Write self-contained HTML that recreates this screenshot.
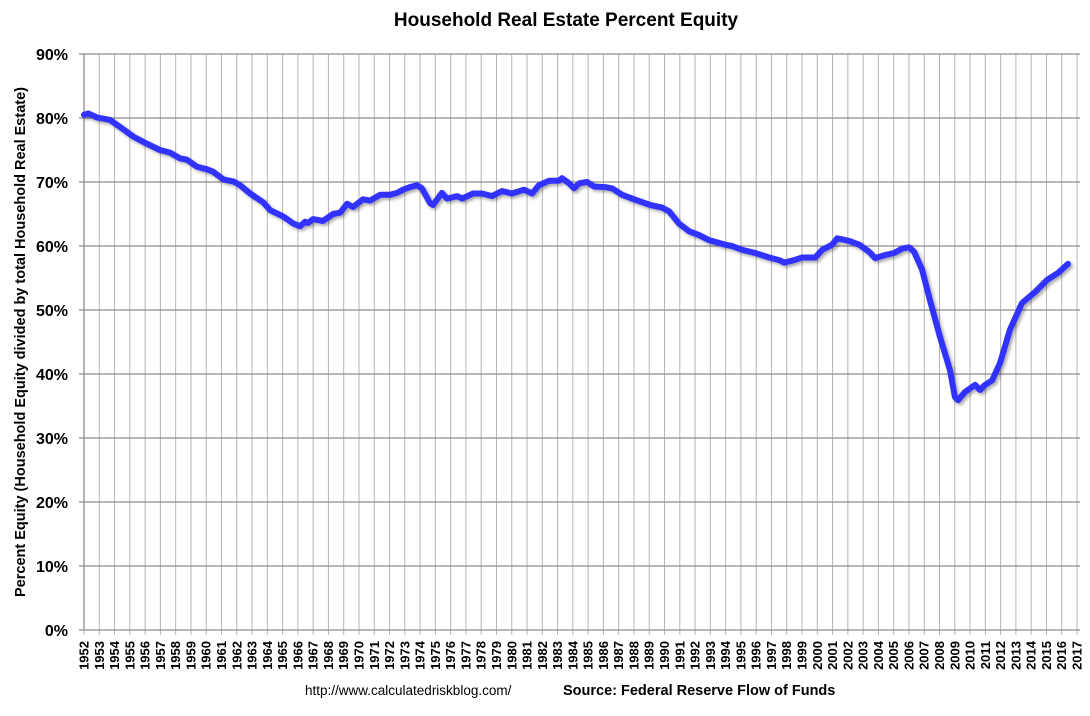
<!DOCTYPE html>
<html><head><meta charset="utf-8"><style>
body{margin:0;background:#fff;}
svg{display:block;font-family:"Liberation Sans",Arial,sans-serif;}
</style></head><body>
<svg id="chart" width="1090" height="716">
<defs><filter id="sh" x="-5%" y="-5%" width="110%" height="110%"><feDropShadow dx="2" dy="2" stdDeviation="1.5" flood-color="#000" flood-opacity="0.35"/></filter></defs>
<text x="566" y="26" text-anchor="middle" font-size="19" font-weight="bold">Household Real Estate Percent Equity</text>
<g id="grid"></g>
<g id="axes"></g>
<text transform="translate(25,342) rotate(-90)" text-anchor="middle" font-size="14.5" font-weight="bold">Percent Equity (Household Equity divided by total Household Real Estate)</text>
<text x="305" y="695" font-size="13.5">http://www.calculatedriskblog.com/</text>
<text x="563" y="695" font-size="14.5" font-weight="bold">Source: Federal Reserve Flow of Funds</text>
</svg>
<script>
const years=[1952.00,1952.28,1952.83,1953.70,1954.47,1955.23,1956.10,1956.97,1957.63,1958.28,1958.72,1959.38,1960.03,1960.46,1961.12,1961.77,1962.21,1962.87,1963.74,1964.18,1965.05,1965.70,1966.14,1966.47,1966.66,1966.99,1967.64,1968.30,1968.76,1969.22,1969.61,1970.26,1970.72,1971.38,1972.03,1972.49,1972.88,1973.34,1973.80,1974.12,1974.65,1974.84,1975.43,1975.76,1976.42,1976.74,1977.46,1978.05,1978.71,1979.36,1980.01,1980.80,1981.33,1981.78,1982.44,1983.09,1983.29,1983.75,1984.08,1984.41,1984.93,1985.39,1986.11,1986.57,1987.22,1988.01,1989.06,1989.84,1990.30,1990.95,1991.61,1992.26,1992.92,1993.97,1994.42,1995.08,1995.93,1996.85,1997.50,1997.83,1998.36,1999.01,1999.86,2000.32,2000.97,2001.30,2002.08,2002.74,2003.39,2003.79,2004.44,2005.03,2005.55,2006.01,2006.34,2006.86,2007.38,2008.03,2008.69,2009.01,2009.21,2009.67,2010.32,2010.65,2010.98,2011.44,2011.96,2012.61,2013.40,2014.25,2015.04,2015.76,2016.41];
const equity=[80.5,80.7,80.1,79.7,78.4,77.1,76.0,75.0,74.6,73.7,73.5,72.4,72.0,71.6,70.4,70.1,69.5,68.2,66.8,65.6,64.6,63.5,63.1,63.8,63.6,64.2,63.9,65.0,65.2,66.6,66.1,67.3,67.1,68.0,68.0,68.3,68.8,69.2,69.5,69.0,66.7,66.4,68.3,67.4,67.8,67.4,68.2,68.2,67.8,68.6,68.2,68.8,68.2,69.5,70.2,70.2,70.6,69.8,69.0,69.8,70.0,69.3,69.2,69.0,68.0,67.3,66.4,66.0,65.4,63.5,62.3,61.7,60.9,60.2,60.0,59.4,58.9,58.2,57.8,57.4,57.7,58.2,58.2,59.4,60.2,61.2,60.8,60.2,59.1,58.1,58.6,58.9,59.6,59.8,59.1,56.3,51.5,45.8,40.6,36.4,35.9,37.2,38.3,37.5,38.3,39.0,41.7,46.9,51.1,52.8,54.7,55.8,57.2];
const yTicks=[0,10,20,30,40,50,60,70,80,90];
const yearLabels=[];for(let y=1952;y<=2017;y++)yearLabels.push(y);

const NS="http://www.w3.org/2000/svg";
const X0=84,X1=1077,Y0=630,Y1=54;
function xs(yr){return X0+(yr-1952)*(X1-X0)/(2017-1952);}
function ys(v){return Y0-(v/90)*(Y0-Y1);}
function mk(tag,attrs,parent){const e=document.createElementNS(NS,tag);for(const k in attrs)e.setAttribute(k,attrs[k]);parent.appendChild(e);return e;}
const svg=document.getElementById('chart');
const grid=document.getElementById('grid'),axes=document.getElementById('axes');
yearLabels.forEach(yr=>{
  const x=xs(yr);
  const l=mk('line',{x1:x,x2:x,y1:Y1,y2:Y0+5,stroke:'#b4b4b4','stroke-width':1},grid);
  
  
  const t=mk('text',{transform:`translate(${x+4.5},${Y0+11}) rotate(-90)`,'text-anchor':'end','font-size':13,'font-weight':'bold'},axes);
  t.textContent=yr;
  
  
});
yTicks.forEach(v=>{
  const y=ys(v);
  const l=mk('line',{x1:X0-5,x2:X1+3,y1:y,y2:y,stroke:'#8c8c8c','stroke-width':1.3},grid);
  
  
  const t=mk('text',{x:68,y:y+6,'text-anchor':'end','font-size':16,'font-weight':'bold'},axes);
  t.textContent=v+'%';
  
  
});
const ax=mk('line',{x1:X0,x2:X0,y1:Y1,y2:Y0,stroke:'#8c8c8c','stroke-width':1.3},axes);


const d=years.map((yr,i)=>(i?'L':'M')+xs(yr).toFixed(1)+','+ys(equity[i]).toFixed(1)).join('');
const p=mk('path',{d:d,fill:'none',stroke:'#3333ff','stroke-width':6,'stroke-linejoin':'round','stroke-linecap':'round',filter:'url(#sh)'},svg);


</script>
</body></html>
